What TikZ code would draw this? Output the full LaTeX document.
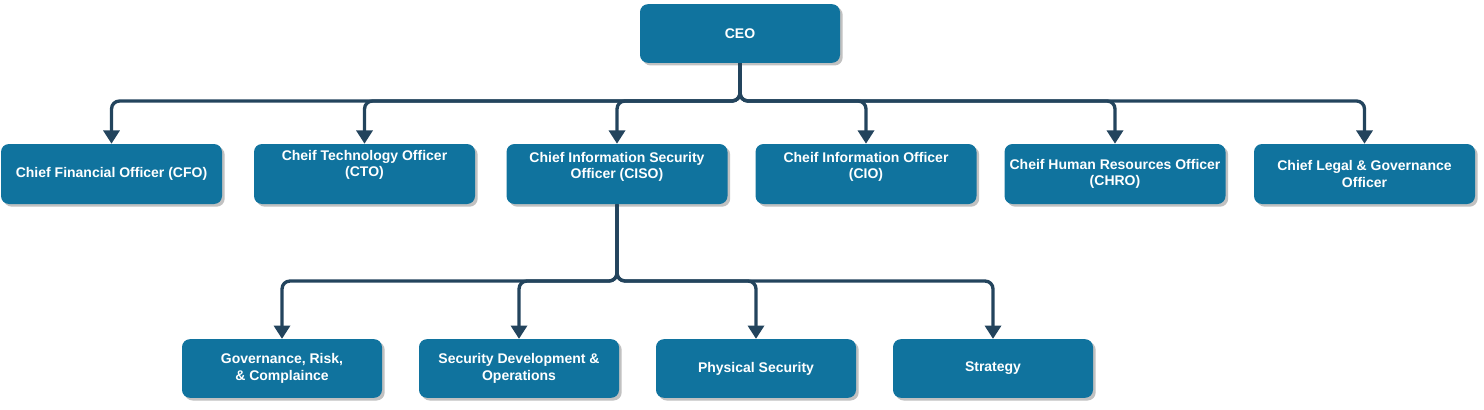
\documentclass[tikz,border=0pt]{standalone}
\usepackage{fontspec}
\setmainfont{Liberation Sans}
\usetikzlibrary{positioning}
\usetikzlibrary{arrows.meta}
\usetikzlibrary{shadows}
\definecolor{boxblue}{HTML}{10739E}
\definecolor{linkblue}{HTML}{23445D}
\tikzset{
    chief/.style = {rectangle, rounded corners=6pt, fill=boxblue, text=white, align=center, minimum width=165.75pt, minimum height=45pt, font=\bfseries\fontsize{10.5}{12.5}\selectfont, drop shadow={shadow xshift=2pt, shadow yshift=-2pt, opacity=0.35, fill=black!70}},
    ceonode/.style = {chief, minimum width=150pt, minimum height=44pt},
    team/.style = {chief, minimum width=150pt, minimum height=44pt},
    lift/.style = {text depth=#1},
    link/.style = {-{Triangle[width=12pt,length=10pt]}, line width=2.5pt, draw=linkblue, rounded corners=6pt},
}

\begin{document}
\begin{tikzpicture}[x=0.75pt, y=-0.75pt]
\useasboundingbox (0, 0) rectangle (1484, 410);
\node[ceonode] at (740.0, 33.5) (ceo) {CEO};
% chiefs
\node[chief] at (111.5, 174.0) (cfo) {Chief Financial Officer (CFO)};
\node[chief, lift=16pt] at (364.5, 174.0) (cto) {Cheif Technology Officer\\(CTO)};
\node[chief, lift=13pt] at (617.0, 174.0) (ciso) {Chief Information Security\\Officer (CISO)};
\node[chief, lift=13pt] at (866.0, 174.0) (cio) {Cheif Information Officer\\(CIO)};
\node[chief] at (1115.0, 174.0) (chro) {Cheif Human Resources Officer\\(CHRO)};
\node[chief] at (1364.5, 174.0) (clgo) {Chief Legal \& Governance\\Officer};
% ciso teams
\node[team] at (282.0, 368.5) (grc) {Governance, Risk,\\\& Complaince};
\node[team] at (519.0, 368.5) (sdo) {Security Development \&\\Operations};
\node[team] at (756.0, 368.5) (phys) {Physical Security};
\node[team] at (993.0, 368.5) (strat) {Strategy};
%
\coordinate (bar) at (740, 101);
\coordinate (subbar) at (617, 281);
\foreach \n in {cfo,cto,ciso,cio,chro,clgo}
    \draw[link] (ceo.south) -- (ceo.south |- bar) -| (\n.north);
\foreach \n in {grc,sdo,phys,strat}
    \draw[link] (ciso.south) -- (ciso.south |- subbar) -| (\n.north);
\end{tikzpicture}
\end{document}
